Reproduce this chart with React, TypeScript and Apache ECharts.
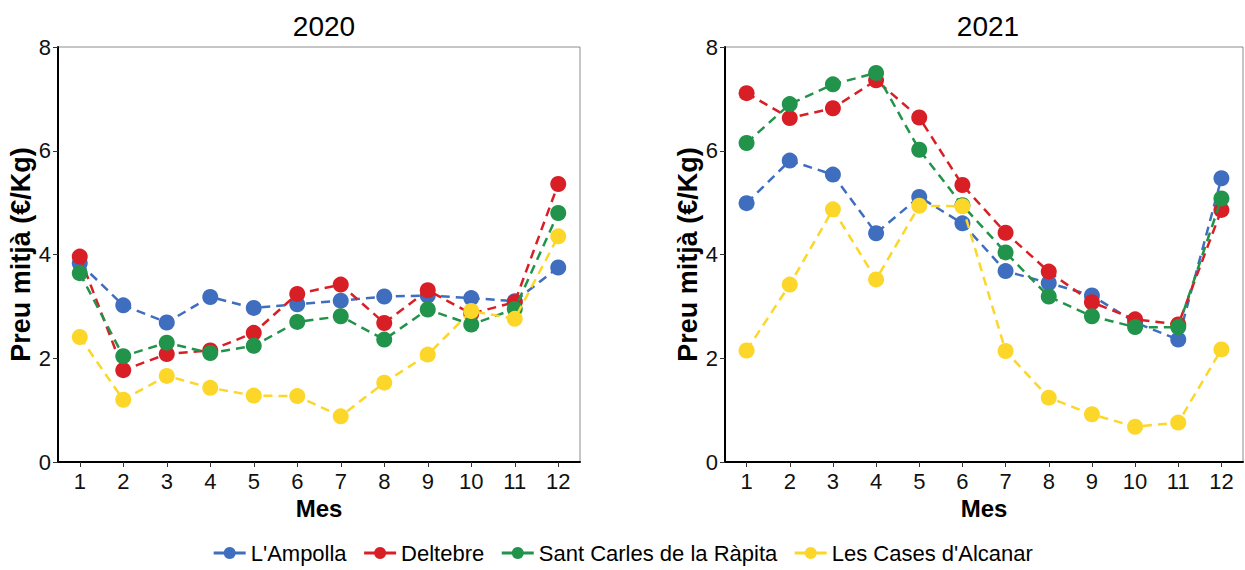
import React, { useEffect, useRef } from "react";
import * as echarts from "echarts";

const months = ["1", "2", "3", "4", "5", "6", "7", "8", "9", "10", "11", "12"];
const seriesNames = ["L'Ampolla", "Deltebre", "Sant Carles de la Ràpita", "Les Cases d'Alcanar"];
const colors = ["#3F6EBF", "#D91F26", "#21934A", "#FCD72A"];

const ampolla2020 = [3.83, 3.02, 2.69, 3.18, 2.97, 3.04, 3.11, 3.19, 3.21, 3.16, 3.10, 3.75];
const deltebre2020 = [3.96, 1.77, 2.08, 2.15, 2.49, 3.24, 3.42, 2.68, 3.31, 2.86, 3.08, 5.36];
const santCarles2020 = [3.64, 2.04, 2.30, 2.10, 2.24, 2.70, 2.81, 2.36, 2.94, 2.65, 2.95, 4.80];
const lesCases2020 = [2.41, 1.20, 1.66, 1.43, 1.28, 1.27, 0.88, 1.53, 2.07, 2.91, 2.76, 4.35];

const ampolla2021 = [4.99, 5.81, 5.54, 4.41, 5.11, 4.60, 3.68, 3.45, 3.21, 2.69, 2.36, 5.47];
const deltebre2021 = [7.11, 6.63, 6.82, 7.36, 6.64, 5.34, 4.42, 3.67, 3.08, 2.75, 2.65, 4.86];
const santCarles2021 = [6.15, 6.90, 7.28, 7.50, 6.02, 4.95, 4.04, 3.19, 2.81, 2.60, 2.60, 5.08];
const lesCases2021 = [2.15, 3.42, 4.87, 3.52, 4.94, 4.93, 2.14, 1.24, 0.92, 0.68, 0.76, 2.17];

const yTicks = [0, 2, 4, 6, 8];
const panelTitles = ["2020", "2021"];

const FONT = "Liberation Sans, Arial, sans-serif";

export default function App() {
  const ref = useRef<HTMLDivElement>(null);
  useEffect(() => {
    if (!ref.current) return;
    const chart = echarts.init(ref.current, undefined, { renderer: "svg" });
    const data2020 = [ampolla2020, deltebre2020, santCarles2020, lesCases2020];
    const data2021 = [ampolla2021, deltebre2021, santCarles2021, lesCases2021];
    const grids = [
      { left: 58, top: 47, width: 522, height: 415, show: true, borderColor: "#8c8c8c", borderWidth: 1, backgroundColor: "#fff" },
      { left: 725, top: 47, width: 518, height: 415, show: true, borderColor: "#8c8c8c", borderWidth: 1, backgroundColor: "#fff" },
    ];
    const xAxes = [0, 1].map((i) => ({
      type: "category",
      gridIndex: i,
      data: months,
      boundaryGap: true,
      name: "Mes",
      nameLocation: "middle",
      nameGap: 32,
      nameTextStyle: { fontFamily: FONT, fontSize: 24, fontWeight: "bold", color: "#000" },
      axisLine: { show: true, lineStyle: { color: "#000", width: 2 } },
      axisTick: { show: true, alignWithLabel: true, length: 5, lineStyle: { color: "#333", width: 1 } },
      axisLabel: { fontFamily: FONT, fontSize: 22, color: "#111", margin: 8 },
      splitLine: { show: false },
    }));
    const yAxes = [0, 1].map((i) => ({
      type: "value",
      gridIndex: i,
      min: yTicks[0],
      max: yTicks[yTicks.length - 1],
      interval: 2,
      name: "Preu mitjà (€/Kg)",
      nameLocation: "middle",
      nameGap: 22,
      nameTextStyle: { fontFamily: FONT, fontSize: 27, fontWeight: "bold", color: "#000" },
      axisLine: { show: true, lineStyle: { color: "#000", width: 2 } },
      axisTick: { show: true, length: 5, lineStyle: { color: "#333", width: 1 } },
      axisLabel: { fontFamily: FONT, fontSize: 22, color: "#111", margin: 7 },
      splitLine: { show: false },
    }));
    const series: any[] = [];
    [data2020, data2021].forEach((set, gi) => {
      set.forEach((vals, si) => {
        series.push({
          type: "line",
          name: seriesNames[si],
          xAxisIndex: gi,
          yAxisIndex: gi,
          data: vals,
          symbol: "circle",
          symbolSize: 16,
          color: colors[si],
          itemStyle: { color: colors[si] },
          lineStyle: { color: colors[si], width: 2.5, type: [9, 6] },
          z: 2 + si,
        });
      });
    });
    chart.setOption({
      animation: false,
      backgroundColor: "#fff",
      title: [
        { text: panelTitles[0], left: 319, top: 7, textAlign: "center", textStyle: { fontFamily: FONT, fontSize: 28, fontWeight: "normal", color: "#000" } },
        { text: panelTitles[1], left: 983, top: 7, textAlign: "center", textStyle: { fontFamily: FONT, fontSize: 28, fontWeight: "normal", color: "#000" } },
      ],
      legend: {
        data: seriesNames,
        bottom: 1,
        left: "center",
        itemWidth: 32,
        itemHeight: 15,
        itemGap: 16,
        lineStyle: { type: "solid", width: 3 },
        textStyle: { fontFamily: FONT, fontSize: 22, color: "#000" },
      },
      grid: grids,
      xAxis: xAxes,
      yAxis: yAxes,
      series,
    });
    return () => chart.dispose();
  }, []);
  return <div ref={ref} style={{ position: "fixed", left: 0, top: 0, width: 1245, height: 570 }} />;
}
